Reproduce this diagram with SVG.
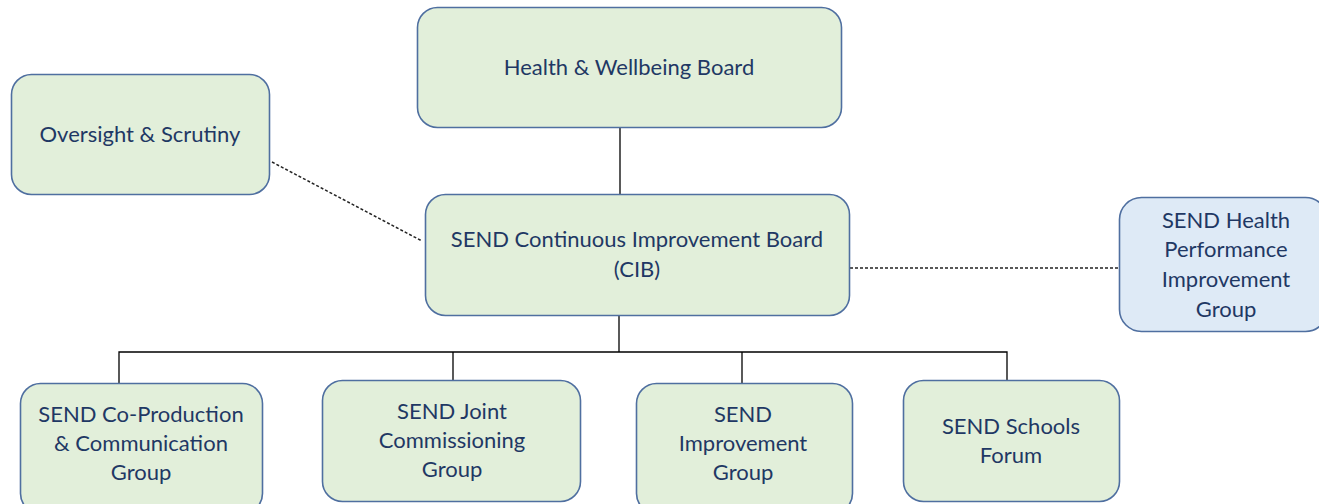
<svg xmlns="http://www.w3.org/2000/svg" width="1319" height="504" viewBox="0 0 1319 504">
<style>
.box{fill:#E2EFDA;stroke:#4F6FA0;stroke-width:1.6}
.blue{fill:#DEEAF6;stroke:#4F6FA0;stroke-width:1.6}
.t{font-family:Lato,"Open Sans",sans-serif;font-size:22px;fill:#1F3864;text-anchor:middle;dominant-baseline:central}
.solid{stroke:#000;stroke-width:1.3;fill:none}
.dash{stroke:#222;stroke-width:1.5;stroke-dasharray:3 2;fill:none}
</style>
<rect width="1319" height="504" fill="#fff"/>
<g id="connectors">
<line class="solid" x1="620" y1="127" x2="620" y2="194"/>
<line class="solid" x1="619" y1="316" x2="619" y2="352"/>
<polyline class="solid" points="119,383 119,352 1007,352 1007,382"/>
<line class="solid" x1="453" y1="352" x2="453" y2="380"/>
<line class="solid" x1="742" y1="352" x2="742" y2="383"/>
<line class="dash" x1="272" y1="162" x2="422" y2="241"/>
<line class="dash" x1="850" y1="268" x2="1119" y2="268"/>
</g>
<g id="hwb">
<rect class="box" x="417.5" y="7.5" width="424" height="120" rx="20"/>
<text class="t" x="629" y="66">Health &amp; Wellbeing Board</text>
</g>
<g id="oversight">
<rect class="box" x="11.5" y="74.5" width="258" height="120" rx="20"/>
<text class="t" x="140" y="133">Oversight &amp; Scrutiny</text>
</g>
<g id="cib">
<rect class="box" x="425.5" y="194.5" width="424" height="121" rx="20"/>
<text class="t" x="637" y="238">SEND Continuous Improvement Board</text>
<text class="t" x="637" y="268">(CIB)</text>
</g>
<g id="health">
<rect class="blue" x="1119.5" y="197.5" width="208" height="134" rx="22"/>
<text class="t" x="1226" y="219">SEND Health</text>
<text class="t" x="1226" y="248">Performance</text>
<text class="t" x="1226" y="278">Improvement</text>
<text class="t" x="1226" y="308">Group</text>
</g>
<g id="coprod">
<rect class="box" x="20.5" y="383.5" width="242" height="130" rx="20"/>
<text class="t" x="141" y="413">SEND Co-Production</text>
<text class="t" x="141" y="442">&amp; Communication</text>
<text class="t" x="141" y="471">Group</text>
</g>
<g id="joint">
<rect class="box" x="322.5" y="380.5" width="258" height="121" rx="20"/>
<text class="t" x="452" y="410">SEND Joint</text>
<text class="t" x="452" y="439">Commissioning</text>
<text class="t" x="452" y="468">Group</text>
</g>
<g id="improvement">
<rect class="box" x="636.5" y="383.5" width="216" height="130" rx="20"/>
<text class="t" x="743" y="413">SEND</text>
<text class="t" x="743" y="442">Improvement</text>
<text class="t" x="743" y="471">Group</text>
</g>
<g id="schools">
<rect class="box" x="903.5" y="380.5" width="216" height="121" rx="20"/>
<text class="t" x="1011" y="425">SEND Schools</text>
<text class="t" x="1011" y="454">Forum</text>
</g>
</svg>
